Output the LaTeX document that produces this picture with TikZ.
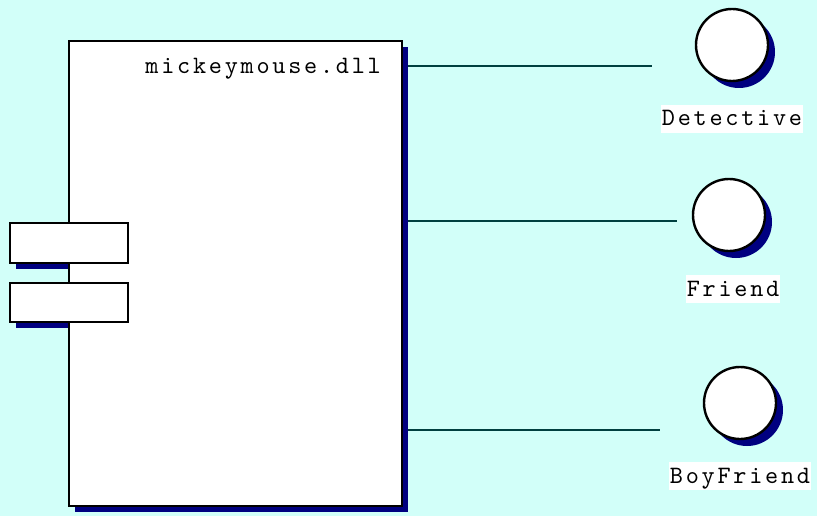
\documentclass[tikz,border=0pt]{standalone}
\usepackage{fontspec}
\usepackage{xcolor}
\usetikzlibrary{shadows}
\newfontfamily\lblfont[LetterSpace=11]{lmmono10-regular.otf}
\definecolor{bgcol}{RGB}{210,255,249}
\definecolor{shadecol}{RGB}{0,0,128}
\definecolor{wirecol}{RGB}{0,64,64}

\begin{document}
\begin{tikzpicture}[x=1pt,y=-1pt,
  box/.style={draw,line width=2.4pt,fill=white,inner sep=0pt,outer sep=0pt,anchor=north west},
  iface/.style={circle,draw,line width=2.4pt,fill=white,inner sep=0pt,minimum size=72pt,
    drop shadow={shadow xshift=7pt,shadow yshift=-7pt,fill=shadecol,opacity=1}},
  lbl/.style={fill=white,anchor=base,font=\lblfont\fontsize{25}{25}\selectfont,
    text height=18pt,text depth=4pt,inner xsep=1pt,inner ysep=3pt},
  wire/.style={draw=wirecol,line width=2.6pt}]
\fill[bgcol](0,0)rectangle(817,516);
\useasboundingbox(0,0)rectangle(817,516);
% component body and ports
\fill[shadecol](75,47)rectangle(408,512);
\fill[shadecol](16,263)rectangle(69,269);\fill[shadecol](16,322)rectangle(69,328);
\node[box,minimum width=333pt,minimum height=465pt](dll)at(69,41){};
\node[box,minimum width=118pt,minimum height=40pt](p1)at(10,223){};
\node[box,minimum width=118pt,minimum height=39pt](p2)at(10,283){};
\node[anchor=base east,inner sep=0pt,font=\lblfont\fontsize{25}{25}\selectfont](title)at(381,74){mickeymouse.dll};
% interfaces
\node[iface](det)at(732,45){};\node[lbl](detl)at(732,126){Detective};
\node[iface](fr)at(729,215){};\node[lbl](frl)at(733,296){Friend};
\node[iface](bf)at(740,403){};\node[lbl](bfl)at(740,483){BoyFriend};
\coordinate(e1)at(652,66);\coordinate(e2)at(677,221);\coordinate(e3)at(660,430);
\draw[wire](dll.east|-e1)++(6,0)--(e1);
\draw[wire](dll.east|-e2)++(6,0)--(e2);
\draw[wire](dll.east|-e3)++(6,0)--(e3);
\end{tikzpicture}
\end{document}
